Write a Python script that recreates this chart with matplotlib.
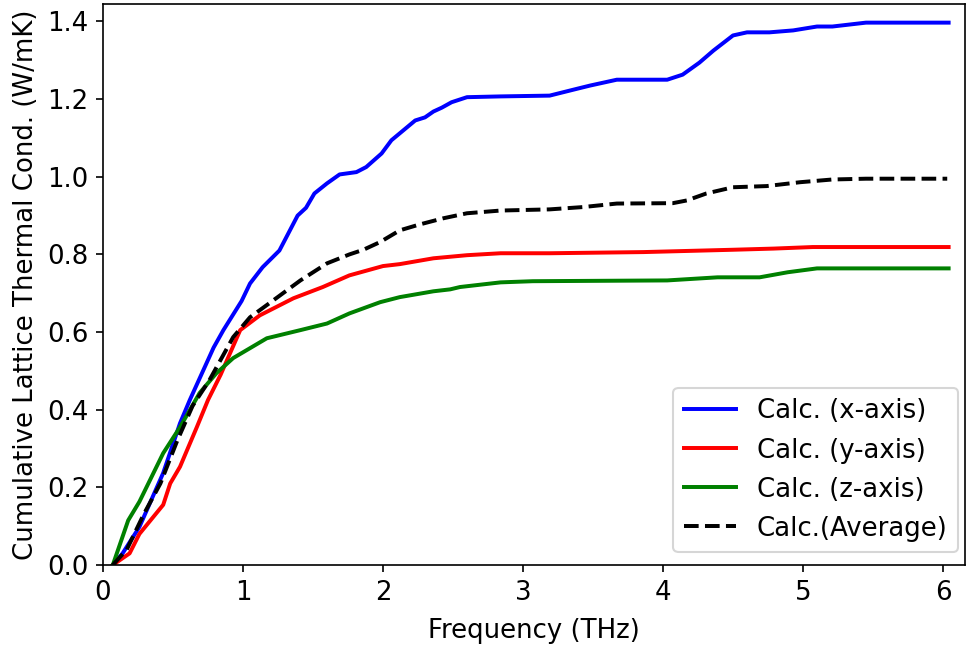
import matplotlib
matplotlib.use("Agg")
import matplotlib.pyplot as plt

# --- data (THz, W/mK) ---
freq_x = [0.07, 0.14, 0.26, 0.43, 0.55, 0.62, 0.79, 0.86, 0.99, 1.05, 1.14, 1.26, 1.39,
          1.45, 1.51, 1.60, 1.69, 1.81, 1.88, 1.99, 2.06, 2.23, 2.30, 2.36, 2.42, 2.49,
          2.60, 2.84, 3.19, 3.39, 3.48, 3.67, 4.03, 4.14, 4.26, 4.36, 4.50, 4.60, 4.76,
          4.93, 5.10, 5.21, 5.45, 6.04]
kappa_x = [0.0, 0.03, 0.098, 0.237, 0.365, 0.425, 0.56, 0.605, 0.68, 0.725, 0.767, 0.81,
           0.90, 0.92, 0.957, 0.983, 1.006, 1.012, 1.025, 1.06, 1.094, 1.145, 1.153, 1.168,
           1.178, 1.192, 1.205, 1.207, 1.209, 1.227, 1.235, 1.25, 1.25, 1.263, 1.294,
           1.325, 1.364, 1.372, 1.372, 1.377, 1.387, 1.387, 1.397, 1.397]

freq_y = [0.07, 0.19, 0.26, 0.43, 0.48, 0.55, 0.67, 0.75, 0.84, 0.98, 1.12, 1.36, 1.57,
          1.76, 2.0, 2.12, 2.36, 2.60, 2.84, 3.19, 3.86, 4.5, 4.79, 5.07, 6.04]
kappa_y = [0.0, 0.03, 0.08, 0.155, 0.21, 0.253, 0.355, 0.425, 0.49, 0.605, 0.643, 0.687,
           0.716, 0.746, 0.77, 0.775, 0.79, 0.798, 0.803, 0.803, 0.806, 0.812, 0.815,
           0.819, 0.819]

freq_z = [0.07, 0.18, 0.26, 0.43, 0.55, 0.69, 0.81, 0.93, 1.17, 1.41, 1.60, 1.76, 1.98,
          2.12, 2.36, 2.48, 2.55, 2.84, 3.07, 4.03, 4.39, 4.69, 4.89, 5.10, 6.04]
kappa_z = [0.0, 0.115, 0.163, 0.288, 0.355, 0.443, 0.494, 0.533, 0.584, 0.605, 0.622,
           0.648, 0.677, 0.69, 0.705, 0.71, 0.716, 0.728, 0.731, 0.733, 0.741, 0.741,
           0.754, 0.764, 0.764]

freq_avg = [0.07, 0.17, 0.29, 0.41, 0.53, 0.64, 0.76, 0.93, 1.05, 1.21, 1.41, 1.60, 1.76,
            1.86, 1.98, 2.12, 2.26, 2.43, 2.60, 2.84, 3.19, 3.43, 3.67, 4.07, 4.17, 4.31,
            4.50, 4.74, 4.98, 5.21, 5.45, 6.03]
kappa_avg = [0.0, 0.04, 0.13, 0.21, 0.32, 0.41, 0.476, 0.587, 0.638, 0.68, 0.733, 0.777,
             0.80, 0.812, 0.832, 0.862, 0.877, 0.893, 0.906, 0.913, 0.916, 0.922, 0.931,
             0.932, 0.939, 0.957, 0.973, 0.976, 0.986, 0.993, 0.995, 0.995]

plt.rcParams['font.size'] = 12.5

fig = plt.figure(figsize=(967 / 150, 650 / 150), dpi=150)
ax = fig.add_axes([103 / 967, 85 / 650, 862 / 967, 561 / 650])

ax.plot(freq_x, kappa_x, color='blue', lw=1.9, label='Calc. (x-axis)')
ax.plot(freq_y, kappa_y, color='red', lw=1.9, label='Calc. (y-axis)')
ax.plot(freq_z, kappa_z, color='green', lw=1.9, label='Calc. (z-axis)')
ax.plot(freq_avg, kappa_avg, color='black', ls='--', lw=1.9, label='Calc.(Average)')

ax.set_xlim(0, 6.157)
ax.set_ylim(0, 1.445)
ax.set_xticks(range(7))
ax.set_yticks([0.0, 0.2, 0.4, 0.6, 0.8, 1.0, 1.2, 1.4])
ax.set_xlabel("Frequency (THz)", labelpad=6)
ax.set_ylabel("Cumulative Lattice Thermal Cond. (W/mK)")
ax.legend(loc='lower right', bbox_to_anchor=(1.007, 0.0))

fig.savefig("out.png", dpi=150)
